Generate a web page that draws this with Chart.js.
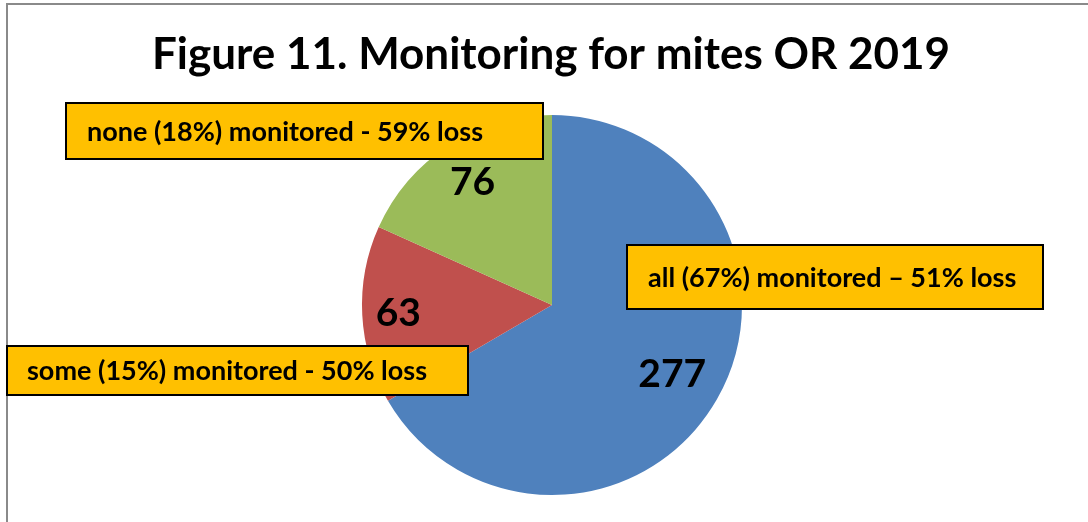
<!DOCTYPE html>
<html>
<head>
<meta charset="utf-8">
<script src="https://cdn.jsdelivr.net/npm/chart.js@4/dist/chart.umd.min.js"></script>
<style>
  html, body { margin: 0; padding: 0; background: #fff; }
  #wrap { width: 1088px; height: 522px; position: relative; }
</style>
</head>
<body>
<div id="wrap"><canvas id="myChart" width="1088" height="522"></canvas></div>
<script>
const titleText = 'Figure 11. Monitoring for mites OR 2019';
const categories = ['all', 'some', 'none'];
const hiveCounts = [277, 63, 76];
const calloutTexts = [
  'all (67%) monitored \u2013 51% loss',
  'some (15%) monitored - 50% loss',
  'none (18%) monitored - 59% loss'
];
const sliceColors = ['#4F81BD', '#C0504D', '#9BBB59'];

// boxes placed like the original callouts (x, y, w, h, text x)
const calloutBoxes = [
  { x: 627, y: 245, w: 416, h: 64, tx: 648 },
  { x: 7, y: 346, w: 461, h: 49, tx: 27 },
  { x: 66, y: 103, w: 477, h: 56, tx: 87 }
];
const labelRadius = [0.73, 0.81, 0.77];

const figurePlugin = {
  id: 'figure',
  afterDraw(chart) {
    const ctx = chart.ctx;
    ctx.save();

    // outer frame
    ctx.strokeStyle = '#8a8a8a';
    ctx.lineWidth = 2;
    ctx.beginPath();
    ctx.moveTo(7, 530);
    ctx.lineTo(7, 4);
    ctx.lineTo(1100, 4);
    ctx.stroke();

    // title
    ctx.fillStyle = '#000';
    ctx.font = 'bold 44px Lato';
    ctx.textAlign = 'center';
    ctx.textBaseline = 'middle';
    ctx.fillText(titleText, 551, 55);

    // value labels inside slices
    const meta = chart.getDatasetMeta(0);
    ctx.font = 'bold 39px Lato';
    meta.data.forEach((arc, i) => {
      const mid = (arc.startAngle + arc.endAngle) / 2;
      const r = arc.outerRadius * labelRadius[i];
      const x = arc.x + Math.cos(mid) * r;
      const y = arc.y + Math.sin(mid) * r;
      ctx.fillText(String(hiveCounts[i]), x, y);
    });

    // callout boxes
    ctx.font = 'bold 27px Lato';
    ctx.textAlign = 'left';
    calloutBoxes.forEach((b, i) => {
      ctx.fillStyle = '#FFC000';
      ctx.fillRect(b.x, b.y, b.w, b.h);
      ctx.strokeStyle = '#000';
      ctx.lineWidth = 2;
      ctx.strokeRect(b.x, b.y, b.w, b.h);
      ctx.fillStyle = '#000';
      ctx.fillText(calloutTexts[i], b.tx, b.y + b.h / 2 + 1);
    });
    ctx.restore();
  }
};

new Chart(document.getElementById('myChart'), {
  type: 'pie',
  data: {
    labels: categories,
    datasets: [{
      data: hiveCounts,
      backgroundColor: sliceColors,
      borderWidth: 0
    }]
  },
  options: {
    responsive: false,
    animation: false,
    layout: {
      padding: { top: 115, bottom: 27, left: 362, right: 346 }
    },
    plugins: {
      legend: { display: false },
      tooltip: { enabled: false }
    }
  },
  plugins: [figurePlugin]
});
</script>
</body>
</html>
